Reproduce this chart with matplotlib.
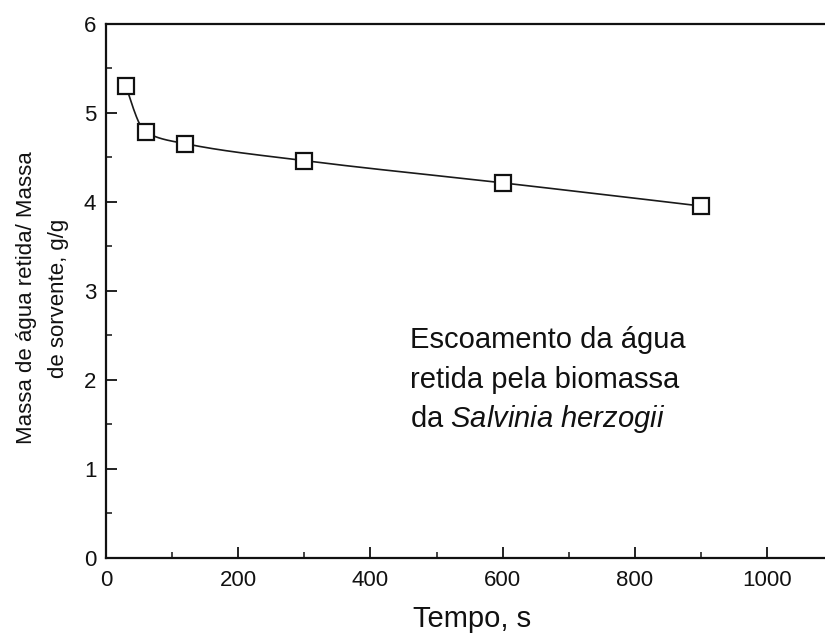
import matplotlib
matplotlib.use("Agg")
import matplotlib.pyplot as plt
import matplotlib.ticker as plticker
import numpy as np

plt.rcParams['font.family'] = ['Liberation Sans', 'DejaVu Sans']
plt.rcParams['mathtext.fontset'] = 'custom'
plt.rcParams['mathtext.rm'] = 'Liberation Sans'
plt.rcParams['mathtext.it'] = 'Liberation Sans:italic'

###data
tempo = [30, 60, 120, 300, 600, 900]          # s
massa = [5.30, 4.78, 4.65, 4.46, 4.21, 3.95]  # g/g

x_ticks = [0, 200, 400, 600, 800, 1000]
y_ticks = [0, 1, 2, 3, 4, 5, 6]


###smooth line through the points (monotone cubic, pchip)
def pchip(x, y, xs):
   x = np.asarray(x, float)
   y = np.asarray(y, float)
   h = np.diff(x)
   d = np.diff(y) / h
   n = len(x)
   m = np.zeros(n)
   for k in range(1, n - 1):
      if d[k-1] * d[k] > 0:
         w1 = 2 * h[k] + h[k-1]
         w2 = h[k] + 2 * h[k-1]
         m[k] = (w1 + w2) / (w1 / d[k-1] + w2 / d[k])
   def end_slope(h0, h1, d0, d1):
      s = ((2 * h0 + h1) * d0 - h0 * d1) / (h0 + h1)
      if np.sign(s) != np.sign(d0):
         s = 0
      elif np.sign(d0) != np.sign(d1) and abs(s) > abs(3 * d0):
         s = 3 * d0
      return s
   m[0] = end_slope(h[0], h[1], d[0], d[1])
   m[-1] = end_slope(h[-1], h[-2], d[-1], d[-2])
   out = np.empty_like(xs)
   idx = np.clip(np.searchsorted(x, xs) - 1, 0, n - 2)
   for j, xv in enumerate(xs):
      k = idx[j]
      t = (xv - x[k]) / h[k]
      h00 = 2*t**3 - 3*t**2 + 1
      h10 = t**3 - 2*t**2 + t
      h01 = -2*t**3 + 3*t**2
      h11 = t**3 - t**2
      out[j] = h00*y[k] + h10*h[k]*m[k] + h01*y[k+1] + h11*h[k]*m[k+1]
   return out


xs = np.linspace(tempo[0], tempo[-1], 600)
ys = pchip(tempo, massa, xs)

fig = plt.figure(figsize=(8.25, 6.37), dpi=100)
# right edge of the axes sits just past the picture edge, like the scan
ax = fig.add_axes([0.1285, 0.1245, 0.887, 0.8386])

ax.plot(xs, ys, color='#1a1a1a', lw=1.2, zorder=2)
ax.plot(tempo, massa, ls='none', marker='s', ms=12, mfc='white',
        mec='#111111', mew=1.6, zorder=3)

ax.set_xlim(0, 1107)
ax.set_ylim(0, 6)
ax.set_xticks(x_ticks)
ax.set_yticks(y_ticks)
ax.xaxis.set_minor_locator(plticker.MultipleLocator(100))
ax.yaxis.set_minor_locator(plticker.MultipleLocator(0.5))

for s in ax.spines.values():
   s.set_linewidth(1.6)
   s.set_color('#111111')
ax.tick_params(which='major', direction='in', length=8, width=1.3,
               labelsize=16, colors='#111111')
ax.tick_params(which='minor', direction='in', length=4.5, width=1.1,
               colors='#111111')
ax.tick_params(axis='x', which='major', pad=9)
ax.tick_params(axis='y', which='major', pad=7)

fig.text(0.0515, 0.532, "Massa de água retida/ Massa\nde sorvente, g/g",
         rotation=90, ha='center', va='center', multialignment='center',
         fontsize=16, linespacing=1.7, color='#111111')
fig.text(0.572, 0.016, "Tempo, s", ha='center', va='baseline',
         fontsize=21, color='#111111')

# annotation, three lines placed by baseline
ax.text(460, 2.36, "Escoamento da água", fontsize=21, va='baseline',
        color='#111111')
ax.text(460, 1.91, "retida pela biomassa", fontsize=21, va='baseline',
        color='#111111')
ax.text(460, 1.47, "da $\\mathit{Salvinia\\ herzogii}$", fontsize=21,
        va='baseline', color='#111111')

fig.savefig("out.png", dpi=100)
